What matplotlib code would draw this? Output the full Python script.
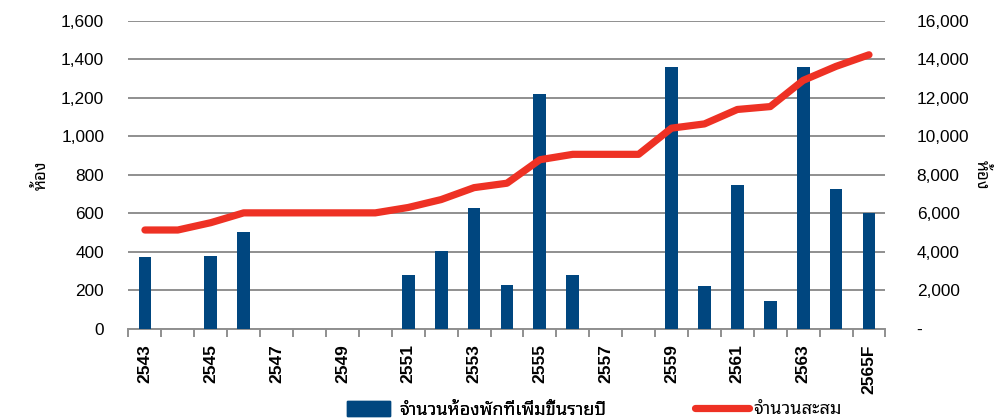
import matplotlib
matplotlib.use('Agg')
from matplotlib import pyplot as plt
from matplotlib.patches import Patch
from matplotlib.lines import Line2D
import numpy as np

# years (Thai B.E.), last one forecast
years = ['2543', '2544', '2545', '2546', '2547', '2548', '2549', '2550',
         '2551', '2552', '2553', '2554', '2555', '2556', '2557', '2558',
         '2559', '2560', '2561', '2562', '2563', '2564', '2565F']
new_rooms = [375, 0, 381, 502, 0, 0, 0, 0,
             280, 407, 627, 227, 1221, 280, 0, 0,
             1361, 221, 748, 147, 1361, 727, 600]
total_rooms = [5140, 5140, 5520, 6030, 6030, 6030, 6030, 6030,
               6310, 6720, 7340, 7570, 8790, 9070, 9070, 9070,
               10430, 10650, 11400, 11550, 12910, 13640, 14240]
left_ticks = [0, 200, 400, 600, 800, 1000, 1200, 1400, 1600]
right_ticks = [0, 2000, 4000, 6000, 8000, 10000, 12000, 14000, 16000]

bar_label = 'จำนวนห้องพักที่เพิ่มขึ้นรายปี'
line_label = 'จำนวนสะสม'
unit = 'ห้อง'

plt.rcParams['font.family'] = ['Liberation Sans', 'Noto Sans Thai Looped',
                               'Noto Sans Thai', 'DejaVu Sans']

bar_color = '#00467f'
line_color = '#ee3124'
grid_color = '#8f8f8f'

fig = plt.figure(figsize=(9.96, 4.18), dpi=100)
ax = fig.add_axes([0.129, 0.213, 0.760, 0.737])
ax2 = ax.twinx()

x = np.arange(len(years))
ax.bar(x, new_rooms, width=0.39, color=bar_color, zorder=3)
ax2.plot(x, total_rooms, color=line_color, lw=5.2, solid_capstyle='round',
         solid_joinstyle='round', zorder=4)

ax.set_xlim(-0.5, len(years) - 0.5)
ax.set_ylim(0, 1600)
ax2.set_ylim(0, 16000)
ax.set_yticks(left_ticks)
ax.set_yticklabels([f'{v:,}' for v in left_ticks])
ax2.set_yticks(right_ticks)
ax2.set_yticklabels(['-' if v == 0 else f'{v:,}' for v in right_ticks])

ax.yaxis.grid(True, color=grid_color, lw=1.4, zorder=0)
ax.set_axisbelow(True)

for a in (ax, ax2):
    for s in ('top', 'left', 'right', 'bottom'):
        a.spines[s].set_visible(False)
ax.spines['bottom'].set_visible(True)
ax.spines['bottom'].set_color(grid_color)
ax.spines['bottom'].set_linewidth(1.4)

ax.tick_params(axis='y', length=0, pad=17.5, labelsize=12.4)
ax2.tick_params(axis='y', length=0, pad=22.5, labelsize=12.4)

# category ticks at boundaries, labels every other year
ax.set_xticks(np.arange(len(years) + 1) - 0.5)
ax.set_xticklabels([])
ax.tick_params(axis='x', which='major', length=6, color=grid_color, width=1.4)
ax.set_xticks(x[::2], minor=True)
ax.set_xticklabels(years[::2], minor=True, rotation=90, fontsize=12.5,
                   fontweight='bold')
ax.tick_params(axis='x', which='minor', length=0, pad=11)

ax.set_ylabel(unit, fontsize=12, fontweight='bold', labelpad=9)
ax2.set_ylabel(unit, fontsize=12, fontweight='bold', rotation=270,
               labelpad=15)

leg1 = fig.legend([Patch(color=bar_color)], [bar_label], loc='center left',
                  bbox_to_anchor=(0.348, 0.02), frameon=False, fontsize=13,
                  borderpad=0, borderaxespad=0, handlelength=2.4,
                  handleheight=0.95, handletextpad=0.5)
fig.add_artist(leg1)
fig.legend([Line2D([], [], color=line_color, lw=5.2, solid_capstyle='round')],
           [line_label], loc='center left', bbox_to_anchor=(0.698, 0.02),
           frameon=False, fontsize=13, borderpad=0, borderaxespad=0,
           handlelength=3.0, handletextpad=0.2)

fig.savefig('out.png', dpi=100)
